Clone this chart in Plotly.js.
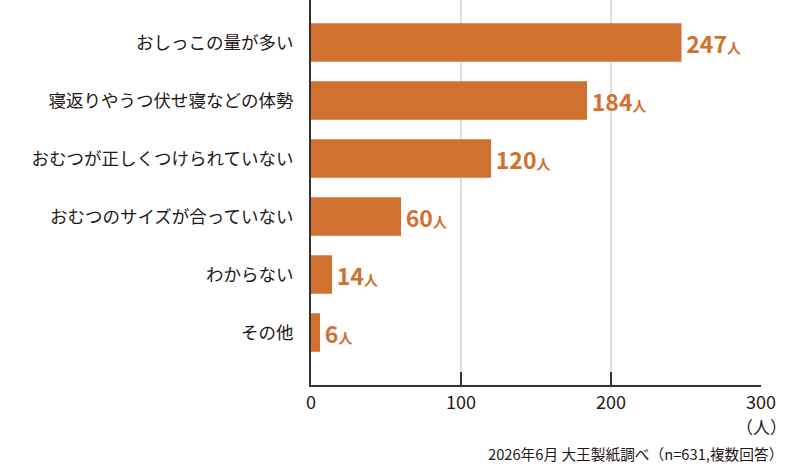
<!DOCTYPE html>
<html>
<head>
<meta charset="utf-8">
<script src="https://cdn.plot.ly/plotly-3.0.1.min.js"></script>
<style>
  html, body { margin: 0; padding: 0; background: #fff; }
  #chart { width: 800px; height: 471px; }
</style>
</head>
<body>
<div id="chart"></div>
<script>
    var categories = [
        'おしっこの量が多い',
        '寝返りやうつ伏せ寝などの体勢',
        'おむつが正しくつけられていない',
        'おむつのサイズが合っていない',
        'わからない',
        'その他'
    ];
    var counts = [247, 184, 120, 60, 14, 6];
    var unit = '人';
    var tickValues = [0, 100, 200, 300];
    var note = '2026年6月 大王製紙調べ（n=631,複数回答）';

    var orange = '#d0712f';
    var font = '"Noto Sans CJK JP", "Noto Sans", sans-serif';

    // 数値は大きく、「人」は小さく
    var labels = counts.map( function( v ) {
        return '<span style="font-size:8px"> </span><b>' + v + '</b>' +
            '<span style="font-size:14px"><b>' + unit + '</b></span>';
    } );

    var trace = {
        type: 'bar',
        orientation: 'h',
        y: categories,
        x: counts,
        marker: { color: orange },
        text: labels,
        textposition: 'outside',
        cliponaxis: false,
        textfont: { family: font, size: 23, color: orange },
        hoverinfo: 'none'
    };

    var layout = {
        width: 800,
        height: 471,
        margin: { l: 311, r: 39, t: 0, b: 86 },
        paper_bgcolor: '#fff',
        plot_bgcolor: '#fff',
        bargap: 0.336,
        showlegend: false,
        font: { family: font, color: '#231815' },
        xaxis: {
            range: [0, 300],
            tickvals: tickValues,
            ticks: 'inside',
            ticklen: 13,
            tickwidth: 2,
            tickcolor: '#333',
            showline: true,
            linecolor: '#333',
            linewidth: 2,
            showgrid: true,
            gridcolor: '#dedede',
            gridwidth: 1.5,
            zeroline: false,
            ticklabelstandoff: 0,
            tickfont: { family: font, size: 18, color: '#231815' },
            fixedrange: true
        },
        yaxis: {
            type: 'category',
            range: [5.905, -0.733],
            autorange: false,
            showline: true,
            linecolor: '#333',
            linewidth: 2,
            showgrid: false,
            zeroline: false,
            ticks: '',
            ticklabelstandoff: 12,
            tickfont: { family: font, size: 17.5, color: '#231815' },
            fixedrange: true
        },
        annotations: [
            {
                text: '（' + unit + '）',
                xref: 'x', x: 300,
                yref: 'paper', y: -0.107,
                xanchor: 'center', yanchor: 'middle',
                showarrow: false,
                font: { family: font, size: 17, color: '#231815' }
            },
            {
                text: note,
                xref: 'paper', x: 1.054,
                yref: 'paper', y: -0.177,
                xanchor: 'right', yanchor: 'middle',
                showarrow: false,
                font: { family: font, size: 14.7, color: '#231815' }
            }
        ]
    };

    Plotly.newPlot( 'chart', [ trace ], layout, { displayModeBar: false, staticPlot: true } );
</script>
</body>
</html>
